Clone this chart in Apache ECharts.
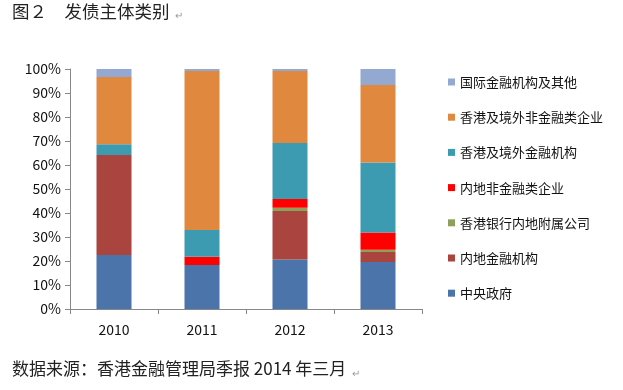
<!DOCTYPE html>
<html><head><meta charset="utf-8">
<script src="https://cdn.jsdelivr.net/npm/echarts@6/dist/echarts.min.js"></script>
<style>html,body{margin:0;padding:0;background:#fff}#c{width:623px;height:390px}</style>
</head><body><div id="c"></div>
<script>
var categories = ['2010', '2011', '2012', '2013'];
var seriesNames = ['中央政府', '内地金融机构', '香港银行内地附属公司', '内地非金融类企业', '香港及境外金融机构', '香港及境外非金融类企业', '国际金融机构及其他'];
var centralGov = [22.5, 18.3, 20.6, 19.6];
var mainlandFin = [41.7, 0, 20.2, 4.1];
var hkBankSub = [0, 0, 1.4, 1.0];
var mainlandNonFin = [0, 3.5, 3.6, 7.2];
var hkOverseasFin = [4.4, 11.1, 23.4, 29.1];
var hkOverseasNonFin = [28.1, 66.3, 30.0, 32.3];
var intlOther = [3.3, 0.8, 0.8, 6.7];
var yTicks = ['0%', '10%', '20%', '30%', '40%', '50%', '60%', '70%', '80%', '90%', '100%'];

var values = [centralGov, mainlandFin, hkBankSub, mainlandNonFin, hkOverseasFin, hkOverseasNonFin, intlOther];
var colors = ['#4a74aa', '#a9443f', '#8fa05a', '#ff0000', '#3d9bb1', '#e0893e', '#94a9d2'];

var chart = echarts.init(document.getElementById('c'));
var font = '"Noto Sans CJK SC", "Noto Sans", sans-serif';
var series = seriesNames.map(function (n, i) {
  return {
    name: n, type: 'bar', stack: 'total', barWidth: 35,
    itemStyle: { color: colors[i] },
    data: values[i]
  };
});
chart.setOption({
  animation: false,
  textStyle: { fontFamily: font },
  graphic: [
    { type: 'text', left: 12, top: 3, style: { text: '图２　发债主体类别', font: '17.5px ' + font, fill: '#222' } },
    { type: 'text', left: 175, top: 10, style: { text: '↵', font: '10px ' + font, fill: '#999' } },
    { type: 'text', left: 12, top: 360, style: { text: '数据来源：香港金融管理局季报 2014 年三月', font: '17px ' + font, fill: '#222' } },
    { type: 'text', left: 352, top: 368, style: { text: '↵', font: '10px ' + font, fill: '#999' } }
  ],
  grid: { left: 70, right: 201, top: 69, bottom: 81 },
  legend: {
    data: seriesNames.slice().reverse(),
    orient: 'vertical', left: 443, top: 70,
    icon: 'rect', itemWidth: 7, itemHeight: 7, itemGap: 21.2,
    textStyle: { fontSize: 13, color: '#111', lineHeight: 14, fontFamily: font }
  },
  xAxis: {
    type: 'category', data: categories,
    axisLine: { lineStyle: { color: '#888' } },
    axisTick: { show: true, length: 5, lineStyle: { color: '#888' } },
    axisLabel: { fontSize: 14, color: '#111', margin: 14, fontFamily: font }
  },
  yAxis: {
    type: 'value', min: 0, max: 100, interval: 10,
    axisLine: { show: true, lineStyle: { color: '#888' } },
    axisTick: { show: true, length: 5, lineStyle: { color: '#888' } },
    splitLine: { show: false },
    axisLabel: { fontSize: 14, color: '#111', margin: 9, fontFamily: font,
      formatter: function (v) { return yTicks[Math.round(v / 10)]; } }
  },
  series: series
});
</script></body></html>
